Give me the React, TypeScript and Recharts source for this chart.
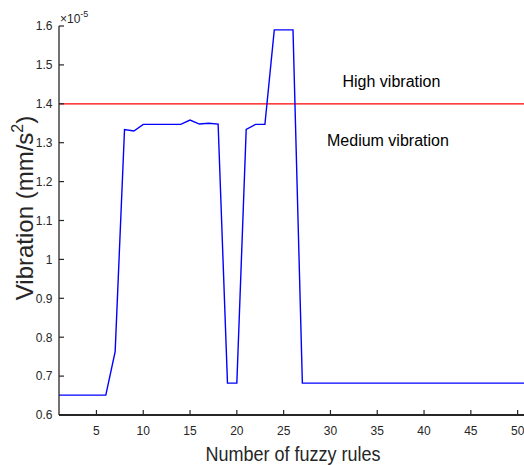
import React from 'react';
import { LineChart, Line, XAxis, YAxis, ReferenceLine } from 'recharts';

const ruleCounts: number[] = [
  1, 2, 3, 4, 5, 6, 7, 8, 9, 10, 11, 12, 13, 14, 15, 16, 17, 18, 19, 20,
  21, 22, 23, 24, 25, 26, 27, 28, 29, 30, 31, 32, 33, 34, 35, 36, 37, 38, 39, 40,
  41, 42, 43, 44, 45, 46, 47, 48, 49, 50, 51,
];
const vibration: number[] = [
  0.651, 0.651, 0.651, 0.651, 0.651, 0.651, 0.763, 1.334, 1.33, 1.347,
  1.347, 1.347, 1.347, 1.347, 1.358, 1.348, 1.35, 1.348, 0.682, 0.682,
  1.334, 1.347, 1.347, 1.59, 1.59, 1.59, 0.682, 0.682, 0.682, 0.682,
  0.682, 0.682, 0.682, 0.682, 0.682, 0.682, 0.682, 0.682, 0.682, 0.682,
  0.682, 0.682, 0.682, 0.682, 0.682, 0.682, 0.682, 0.682, 0.682, 0.682,
  0.682,
];
const xTicks: number[] = [5, 10, 15, 20, 25, 30, 35, 40, 45, 50];
const yTicks: number[] = [0.6, 0.7, 0.8, 0.9, 1, 1.1, 1.2, 1.3, 1.4, 1.5, 1.6];
const xDomain: number[] = [1, 51];
const yDomain: number[] = [0.6, 1.6];
const highThreshold = 1.4;

const xLabel = 'Number of fuzzy rules';
const yLabelMain = 'Vibration (mm/s';
const yLabelSup = '2';
const yLabelEnd = ')';
const highLabel = 'High vibration';
const mediumLabel = 'Medium vibration';
const exponentBase = '\u00d710';
const exponentPow = '-5';

const data = ruleCounts.map((r, i) => ({ rules: r, vib: vibration[i] }));

const AX = '#262626';
const FONT = '"Liberation Sans", Arial, Helvetica, sans-serif';

const BottomTick = (props: any) => {
  const { x, y, payload } = props;
  return (
    <g>
      <line x1={x} y1={y} x2={x} y2={y - 5} stroke={AX} strokeWidth={1.2} />
      <text x={x} y={y + 19.5} textAnchor="middle" fontSize={12} fill={AX} fontFamily={FONT}>
        {String(payload.value)}
      </text>
    </g>
  );
};

const TopTick = (props: any) => {
  const { x, y } = props;
  return <line x1={x} y1={y} x2={x} y2={y + 5} stroke={AX} strokeWidth={1.2} />;
};

const LeftTick = (props: any) => {
  const { x, y, payload } = props;
  return (
    <g>
      <line x1={x} y1={y} x2={x + 5} y2={y} stroke={AX} strokeWidth={1.2} />
      <text x={x - 6.5} y={y + 4.3} textAnchor="end" fontSize={12} fill={AX} fontFamily={FONT}>
        {String(payload.value)}
      </text>
    </g>
  );
};

const RightTick = (props: any) => {
  const { x, y } = props;
  return <line x1={x} y1={y} x2={x - 5} y2={y} stroke={AX} strokeWidth={1.2} />;
};

export default function App() {
  return (
    <div style={{ position: 'absolute', left: 0, top: 0, width: 524, height: 465, overflow: 'hidden', background: '#fff' }}>
      <LineChart
        width={540}
        height={465}
        data={data}
        margin={{ top: 26, right: 13, bottom: 0, left: 0 }}
      >
        <XAxis
          xAxisId="b"
          dataKey="rules"
          type="number"
          domain={xDomain}
          ticks={xTicks}
          orientation="bottom"
          height={50}
          tickSize={0}
          tickMargin={0}
          tickLine={false}
          axisLine={{ stroke: AX, strokeWidth: 2 }}
          tick={<BottomTick />}
          allowDataOverflow
          interval={0}
        />
        <XAxis
          xAxisId="t"
          dataKey="rules"
          type="number"
          domain={xDomain}
          ticks={xTicks}
          orientation="top"
          height={0}
          tickSize={0}
          tickMargin={0}
          tickLine={false}
          axisLine={{ stroke: AX, strokeWidth: 2 }}
          tick={<TopTick />}
          allowDataOverflow
          interval={0}
        />
        <YAxis
          yAxisId="l"
          type="number"
          domain={yDomain}
          ticks={yTicks}
          orientation="left"
          width={59}
          tickSize={0}
          tickMargin={0}
          tickLine={false}
          axisLine={{ stroke: AX, strokeWidth: 1.3 }}
          tick={<LeftTick />}
          allowDataOverflow
          interval={0}
        />
        <YAxis
          yAxisId="r"
          type="number"
          domain={yDomain}
          ticks={yTicks}
          orientation="right"
          width={0}
          tickSize={0}
          tickMargin={0}
          tickLine={false}
          axisLine={{ stroke: AX, strokeWidth: 1.3 }}
          tick={<RightTick />}
          allowDataOverflow
          interval={0}
        />
        <ReferenceLine
          xAxisId="b"
          yAxisId="l"
          y={highThreshold}
          stroke="#ff0000"
          strokeWidth={1.3}
          ifOverflow="extendDomain"
        />
        <Line
          xAxisId="b"
          yAxisId="l"
          type="linear"
          dataKey="vib"
          stroke="#0000ff"
          strokeWidth={1.4}
          dot={false}
          activeDot={false}
          isAnimationActive={false}
        />
      </LineChart>
      <svg
        width={524}
        height={465}
        style={{ position: 'absolute', left: 0, top: 0, pointerEvents: 'none' }}
        fontFamily={FONT}
      >
        <text x={60} y={23} fontSize={12} fill={AX}>
          {exponentBase}
          <tspan dy={-6} fontSize={9}>{exponentPow}</tspan>
        </text>
        <text x={342.5} y={86.5} fontSize={16} fill="#000">{highLabel}</text>
        <text x={327} y={146} fontSize={16} fill="#000">{mediumLabel}</text>
        <text
          x={293}
          y={460.5}
          fontSize={20}
          fill={AX}
          textAnchor="middle"
          textLength={175}
          lengthAdjust="spacingAndGlyphs"
        >
          {xLabel}
        </text>
        <text
          transform="translate(33, 208) rotate(-90)"
          fontSize={24}
          fill={AX}
          textAnchor="middle"
        >
          {yLabelMain}
          <tspan dy={-10} fontSize={16}>{yLabelSup}</tspan>
          <tspan dy={10}>{yLabelEnd}</tspan>
        </text>
      </svg>
    </div>
  );
}
